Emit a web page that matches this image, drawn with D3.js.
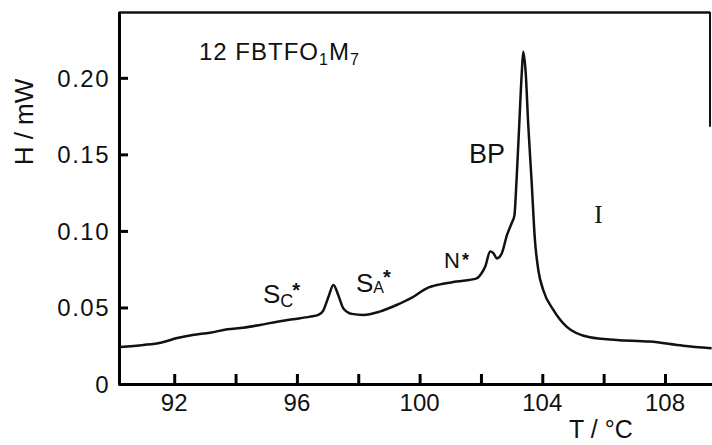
<!DOCTYPE html>
<html>
<head>
    <title>dsc curve</title>
    <style>
        body { margin: 0; background: #fff; overflow: hidden; }
        svg text { font-family: "Liberation Sans", Arial, sans-serif; fill: #111; }
    </style>
    <script src="https://d3js.org/d3.v7.min.js"></script>
</head>
<body>
<script>
    // values
    const temps = [90.24, 91.0, 91.56, 92.1, 92.6, 93.17, 93.73, 94.25, 94.8, 95.36, 95.88, 96.43, 96.7, 96.86,
        97.03, 97.19, 97.35, 97.51, 97.79, 98.17, 98.7, 99.25, 99.8, 100.23, 100.66, 101.21, 101.86, 102.02,
        102.14, 102.3, 102.41, 102.52, 102.68, 102.85, 103.0, 103.09, 103.16, 103.25, 103.33, 103.38, 103.46,
        103.54, 103.65, 103.76, 103.87, 104.03, 104.36, 104.79, 105.55, 106.42, 107.5, 108.59, 109.52];
    const heat = [0.0242, 0.0255, 0.027, 0.030, 0.032, 0.0335, 0.0357, 0.0368, 0.0386, 0.0407, 0.0423, 0.0440, 0.0452, 0.048,
        0.057, 0.0647, 0.058, 0.0495, 0.0458, 0.0451, 0.0473, 0.0516, 0.057, 0.0625, 0.0651, 0.0669, 0.069, 0.0723,
        0.0767, 0.0865, 0.0854, 0.082, 0.0854, 0.0974, 0.105, 0.110, 0.133, 0.170, 0.203, 0.217, 0.203,
        0.170, 0.133, 0.094, 0.0745, 0.0614, 0.0484, 0.0375, 0.0305, 0.0288, 0.0277, 0.025, 0.0233];

    const xTicks = [92, 94, 96, 98, 100, 102, 104, 106, 108];
    const xLabels = [92, 96, 100, 104, 108];
    const yTicks = [0, 0.05, 0.10, 0.15, 0.20];
    const yLabels = ["0", "0.05", "0.10", "0.15", "0.20"];

    const width = 712, height = 445;
    const mLeft = 119, mRight = 711, mTop = 12, mBottom = 384;

    const svg = d3.select("body").append("svg")
        .attr("width", width)
        .attr("height", height);

    const x = d3.scaleLinear().domain([90.2, 109.5]).range([mLeft, mRight]);
    const y = d3.scaleLinear().domain([0, 0.243]).range([mBottom, mTop]);

    // frame: top border and a short piece of the right one
    svg.append("line")
        .attr("x1", mLeft).attr("x2", 710).attr("y1", mTop + 0.5).attr("y2", mTop + 0.5)
        .style("stroke", "#111").style("stroke-width", 2.5);
    svg.append("line")
        .attr("x1", 710).attr("x2", 710).attr("y1", mTop).attr("y2", y(0.168))
        .style("stroke", "#111").style("stroke-width", 2);

    // x axis, ticks pointing up into the plot
    const xAxis = svg.append("g")
        .attr("transform", `translate(0,${mBottom})`)
        .call(d3.axisBottom(x).tickValues(xTicks).tickSizeInner(-10).tickSizeOuter(0).tickFormat(""));
    xAxis.select(".domain").attr("d", `M${mLeft},0.5H${width}`).style("stroke-width", 3);
    xAxis.selectAll(".tick line").style("stroke-width", 3);

    svg.selectAll(".xlab")
        .data(xLabels)
        .enter().append("text")
        .attr("class", "xlab")
        .attr("x", d => x(d))
        .attr("y", 411)
        .style("text-anchor", "middle")
        .style("font-size", "24px")
        .text(d => d);

    // y axis, ticks pointing right
    const yAxis = svg.append("g")
        .attr("transform", `translate(${mLeft},0)`)
        .call(d3.axisLeft(y).tickValues(yTicks).tickSizeInner(-9).tickSizeOuter(0).tickFormat(""));
    yAxis.select(".domain").attr("d", `M0.5,${mTop}V${mBottom + 1.5}`).style("stroke-width", 3);
    yAxis.selectAll(".tick line").style("stroke-width", 3);

    svg.selectAll(".ylab")
        .data(yTicks)
        .enter().append("text")
        .attr("class", "ylab")
        .attr("x", 110)
        .attr("y", d => y(d) + 9)
        .style("text-anchor", "end")
        .style("font-size", "24px")
        .style("letter-spacing", "1.5px")
        .text((d, i) => yLabels[i]);

    // axis titles
    svg.append("text")
        .attr("transform", "translate(33,122) rotate(-90)")
        .style("text-anchor", "middle")
        .style("font-size", "26px")
        .text("H / mW");

    svg.append("text")
        .attr("x", 569)
        .attr("y", 438)
        .style("font-size", "25px")
        .text("T / °C");

    // sample name
    const title = svg.append("text")
        .attr("x", 199)
        .attr("y", 60)
        .style("font-size", "24px")
        .style("letter-spacing", "1px");
    title.append("tspan").text("12 FBTFO");
    title.append("tspan").attr("dy", 5).style("font-size", "16px").text("1");
    title.append("tspan").attr("dy", -5).text("M");
    title.append("tspan").attr("dy", 5).style("font-size", "16px").text("7");

    // phase labels: S, subscript, then the star up and to the right
    function phase(px, py, sub, subDy, subSize, supDy) {
        const t = svg.append("text").attr("x", px).attr("y", py).style("font-size", "26px");
        t.append("tspan").text("S");
        t.append("tspan").attr("dy", subDy).style("font-size", subSize + "px").text(sub);
        t.append("tspan").attr("dx", -1).attr("dy", supDy - subDy).style("font-size", "20px").style("font-weight", "bold").text("*");
    }
    phase(263, 303, "C", 4, 18, -6);
    phase(356, 292, "A", 1, 16, -8);

    const nLab = svg.append("text").attr("x", 444).attr("y", 268).style("font-size", "22px");
    nLab.append("tspan").text("N");
    nLab.append("tspan").attr("dx", 2).attr("dy", -2).style("font-size", "18px").style("font-weight", "bold").text("*");

    svg.append("text").attr("x", 469).attr("y", 163).style("font-size", "27px").text("BP");
    svg.append("text").attr("x", 598.5).attr("y", 223)
        .style("text-anchor", "middle")
        .style("font-family", "'Liberation Serif', serif")
        .style("font-size", "25px").text("I");

    // the curve
    const pts = temps.map((t, i) => [t, heat[i]]);
    const line = d3.line()
        .x(d => x(d[0]))
        .y(d => y(d[1]))
        .curve(d3.curveMonotoneX);

    svg.append("path")
        .datum(pts)
        .attr("d", line)
        .style("fill", "none")
        .style("stroke", "#111")
        .style("stroke-width", 2.5)
        .style("stroke-linejoin", "round");
</script>
</body>
</html>
